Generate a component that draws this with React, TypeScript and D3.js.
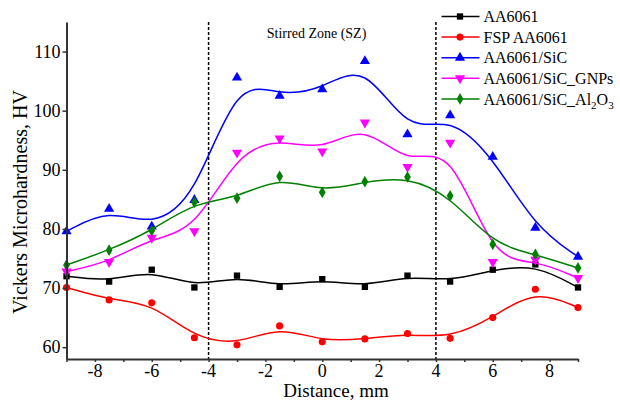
import React, { useEffect, useRef } from "react";
import * as d3 from "d3";

// distance from weld centre, mm
const distance = [-9, -7.5, -6, -4.5, -3, -1.5, 0, 1.5, 3, 4.5, 6, 7.5, 9];

// hardness values, HV
const aa6061 = [72.0, 71.1, 73.1, 70.1, 72.1, 70.2, 71.5, 70.2, 72.1, 71.1, 73.1, 74.0, 70.1];
const fspAA6061 = [70.1, 68.0, 67.5, 61.6, 60.4, 63.6, 60.9, 61.4, 62.3, 61.5, 65.0, 69.8, 66.7];
const sic = [79.6, 83.4, 80.4, 84.9, 105.6, 102.5, 103.6, 108.4, 96.0, 99.2, 92.2, 80.2, 75.3];
const sicGnps = [72.8, 74.4, 78.5, 79.6, 92.9, 95.3, 93.1, 98.0, 90.5, 94.6, 74.4, 74.8, 71.7];
const sicAl2o3 = [73.9, 76.4, 79.7, 84.5, 85.2, 88.9, 86.2, 88.0, 88.8, 85.6, 77.4, 75.7, 73.4];

const xTicks = [-8, -6, -4, -2, 0, 2, 4, 6, 8];
const yTicks = [60, 70, 80, 90, 100, 110];
const zoneEdges = [-4, 4];

const series = [
  { name: "AA6061", values: aa6061, color: "#000000", symbol: d3.symbolSquare, size: 40, rot: 0 },
  { name: "FSP AA6061", values: fspAA6061, color: "#ff0000", symbol: d3.symbolCircle, size: 40, rot: 0 },
  { name: "AA6061/SiC", values: sic, color: "#0000ff", symbol: d3.symbolTriangle, size: 45, rot: 0 },
  { name: "AA6061/SiC_GNPs", values: sicGnps, color: "#ff00ff", symbol: d3.symbolTriangle, size: 45, rot: 180 },
  { name: "AA6061/SiC_Al2O3", values: sicAl2o3, color: "#008000", symbol: d3.symbolDiamond, size: 40, rot: 0 },
];

const width = 620;
const height = 403;
const margin = { top: 22, right: 42, bottom: 44, left: 66.5 };
const font = "Liberation Serif";

function App() {
  const chartRef = useRef<SVGSVGElement>(null);

  useEffect(() => {
    const svg = d3.select(chartRef.current);
    svg.selectAll("*").remove();

    const x = d3.scaleLinear().domain([-9, 9]).range([margin.left, width - margin.right]);
    const y = d3.scaleLinear().domain([58, 115]).range([height - margin.bottom, margin.top]);

    // stirred zone boundaries
    svg
      .selectAll(".zone")
      .data(zoneEdges)
      .enter()
      .append("line")
      .attr("x1", (d) => x(d))
      .attr("x2", (d) => x(d))
      .attr("y1", margin.top)
      .attr("y2", height - margin.bottom)
      .attr("stroke", "#000")
      .attr("stroke-width", 1.5)
      .attr("stroke-dasharray", "3,2");

    svg
      .append("text")
      .attr("x", x(-0.2))
      .attr("y", 38)
      .attr("text-anchor", "middle")
      .style("font-family", font)
      .attr("font-size", 14)
      .text("Stirred Zone (SZ)");

    const line = d3
      .line<number>()
      .x((_, i) => x(distance[i]))
      .y((d) => y(d))
      .curve(d3.curveBasis);

    series.forEach((s) => {
      svg
        .append("path")
        .attr("d", line(s.values))
        .attr("fill", "none")
        .attr("stroke", s.color)
        .attr("stroke-width", 1.5);

      svg
        .selectAll(null)
        .data(s.values)
        .enter()
        .append("path")
        .attr("d", d3.symbol().type(s.symbol).size(s.size)())
        .attr("transform", (d, i) => `translate(${x(distance[i])},${y(d)}) rotate(${s.rot})`)
        .attr("fill", s.color);
    });

    // axes
    const xAxis = svg
      .append("g")
      .attr("transform", `translate(0,${height - margin.bottom})`)
      .call(d3.axisBottom(x).tickValues(d3.range(-9, 10, 1)).tickSize(3).tickFormat(() => "").tickSizeOuter(0));
    xAxis.select(".domain").attr("stroke", "#333").attr("stroke-width", 2);
    xAxis.selectAll(".tick line").attr("stroke", "#333").attr("stroke-width", 1.5);

    svg
      .append("g")
      .selectAll("text")
      .data(xTicks)
      .enter()
      .append("text")
      .attr("x", (d) => x(d))
      .attr("y", 377)
      .attr("text-anchor", "middle")
      .style("font-family", font)
      .attr("font-size", 18)
      .text((d) => String(d));

    const yAxis = svg
      .append("g")
      .attr("transform", `translate(${margin.left},0)`)
      .call(d3.axisLeft(y).tickValues(yTicks).tickSize(4).tickSizeOuter(0).tickPadding(2));
    yAxis.select(".domain").attr("stroke", "#333").attr("stroke-width", 2);
    yAxis.selectAll(".tick line").attr("stroke", "#333").attr("stroke-width", 1.5);
    yAxis.selectAll(".tick text").style("font-family", font).attr("font-size", 18).attr("fill", "#000");

    svg
      .append("text")
      .attr("x", 336)
      .attr("y", 397)
      .attr("text-anchor", "middle")
      .style("font-family", font)
      .attr("font-size", 19)
      .text("Distance, mm");

    svg
      .append("text")
      .attr("transform", "translate(27,202) rotate(-90)")
      .attr("text-anchor", "middle")
      .style("font-family", font)
      .attr("font-size", 20)
      .text("Vickers Microhardness, HV");

    // legend
    const legend = svg.append("g");
    series.forEach((s, i) => {
      const ly = 16.5 + i * 20.6;
      legend
        .append("line")
        .attr("x1", 441.5)
        .attr("x2", 479.5)
        .attr("y1", ly)
        .attr("y2", ly)
        .attr("stroke", s.color)
        .attr("stroke-width", 1.5);
      legend
        .append("path")
        .attr("d", d3.symbol().type(s.symbol).size(s.size)())
        .attr("transform", `translate(460,${ly}) rotate(${s.rot})`)
        .attr("fill", s.color);
      const t = legend
        .append("text")
        .attr("x", 483.5)
        .attr("y", ly)
        .attr("dy", "0.35em")
        .style("font-family", font)
        .attr("font-size", 16);
      if (s.name.endsWith("Al2O3")) {
        t.append("tspan").text("AA6061/SiC_Al");
        t.append("tspan").attr("font-size", 11).attr("dy", 4).text("2");
        t.append("tspan").attr("dy", -4).text("O");
        t.append("tspan").attr("font-size", 11).attr("dy", 4).text("3");
      } else {
        t.text(s.name);
      }
    });
  }, []);

  return (
    <svg
      ref={chartRef}
      width={width}
      height={height}
      style={{ position: "absolute", left: 0, top: 0, background: "#fff" }}
    />
  );
}

export default App;
